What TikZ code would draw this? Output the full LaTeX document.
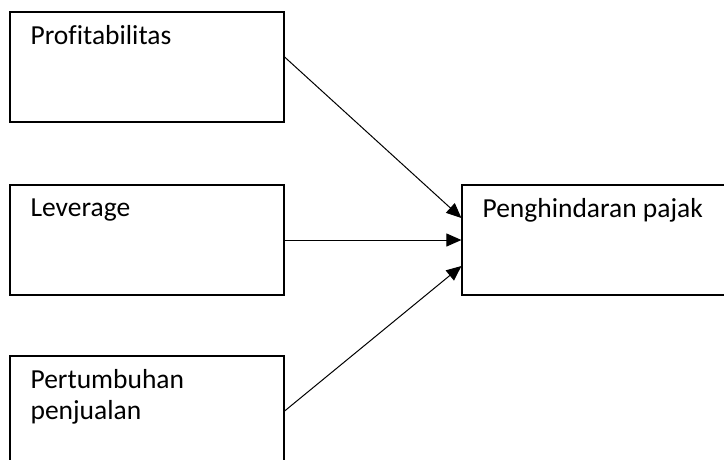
\documentclass[tikz,border=0pt]{standalone}
\usepackage{fontspec}
\setmainfont{Carlito}[Ligatures=CommonOff]
\usetikzlibrary{positioning}
\usetikzlibrary{arrows.meta}

\begin{document}
\begin{tikzpicture}[x=1pt, y=-1pt]

                \def\w{274pt}
                \def\h{110pt}
                \def\dy{14pt}
                \def\dx{21pt}

                % Looks of the boxes and of their texts
                \tikzset{box/.style={draw, line width=1.2pt, minimum width=\w,
                    minimum height=\h, inner sep=0pt}}
                \tikzset{txt/.style={inner sep=0pt, align=left,
                    font=\fontsize{27.5}{31}\selectfont}}

                \useasboundingbox (0, 0) rectangle (724, 459);
                \clip (0, 0) rectangle (724, 459);

                % Boxes, the last two run past the edge of the page
                \node[box] (prof) at (147, 67) {};
                \node[box] (lev) at (147, 240) {};
                \node[box] (pert) at (147, 411) {};
                \node[box] (pen) at (599, 240) {};

                \node[txt] (proftxt) [below right=\dy and \dx of prof.north west]
                {Profitabilitas};
                \node[txt] (levtxt) [below right=\dy and \dx of lev.north west]
                {Leverage};
                \node[txt] (perttxt) [below right=\dy and \dx of pert.north west]
                {Pertumbuhan\\penjualan};
                \node[txt] (pentxt) [below right=\dy and \dx of pen.north west]
                {Penghindaran pajak};

                \begin{scope}[line width=1pt, -{Triangle[length=15pt, width=13pt]}]
                    \draw ([yshift=10pt]prof.east) -- ([yshift=22pt]pen.west);
                    \draw (lev.east) -- (pen.west);
                    \draw (pert.east) -- ([yshift=-26pt]pen.west);
                \end{scope}

\end{tikzpicture}
\end{document}
